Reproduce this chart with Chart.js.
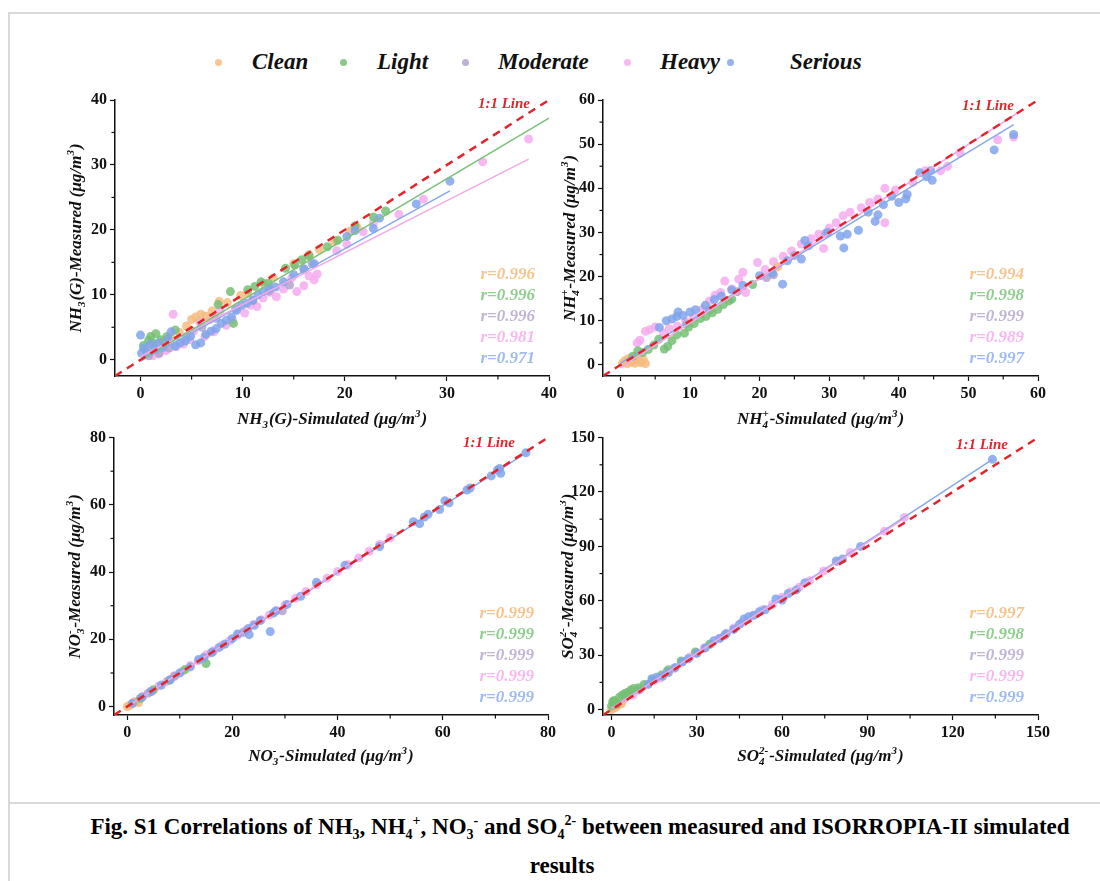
<!DOCTYPE html>
<html>
<head>
<meta charset="utf-8">
<title>Fig. S1</title>
<script src="https://cdn.jsdelivr.net/npm/chart.js@4.4.1/dist/chart.umd.min.js"></script>
<style>
  body { margin: 0; background: #fff; font-family: "Liberation Serif", "Times New Roman", serif; }
  #page { position: relative; width: 1100px; height: 881px; overflow: hidden; }
  .rule { position: absolute; background: #d9d9d9; }
  .panel { position: absolute; }
  .leg { position: absolute; top: 48px; height: 28px; line-height: 28px; font-weight: bold; font-style: italic; font-size: 23px; color: #111; }
  .dot { position: absolute; width: 7px; height: 7px; border-radius: 50%; top: 59px; }
  .cap { position: absolute; font-weight: bold; font-size: 23px; color: #000; white-space: nowrap; transform: translateX(-50%); }
  .cap sub, .cap sup { font-size: 14px; }
</style>
</head>
<body>
<div id="page">
  <div class="rule" style="left:8px;top:12px;width:1092px;height:2px"></div>
  <div class="rule" style="left:8px;top:12px;width:2px;height:869px"></div>
  <div class="rule" style="left:8px;top:802px;width:1092px;height:2px"></div>

  <div id="legend"></div>

  <canvas id="nh3" class="panel" style="left:60px;top:85px" width="500" height="350"></canvas>
  <canvas id="nh4" class="panel" style="left:560px;top:85px" width="500" height="350"></canvas>
  <canvas id="no3" class="panel" style="left:60px;top:425px" width="500" height="346"></canvas>
  <canvas id="so4" class="panel" style="left:560px;top:425px" width="500" height="346"></canvas>

  <div class="cap" style="left:580px;top:813px">Fig. S1 Correlations of NH<sub>3</sub>, NH<sub>4</sub><sup>+</sup>, NO<sub>3</sub><sup>-</sup> and SO<sub>4</sub><sup>2-</sup> between measured and ISORROPIA-II simulated</div>
  <div class="cap" style="left:562px;top:853px">results</div>
</div>
<script>
// pollution levels
const categories = ["Clean", "Light", "Moderate", "Heavy", "Serious"];
const pointColors = ["rgba(247,188,128,0.85)", "rgba(118,192,118,0.85)", "rgba(178,163,205,0.85)", "rgba(246,172,238,0.85)", "rgba(128,164,236,0.85)"];
const lineColors = ["#f5b87a", "#79c279", "#b3a3cf", "#f3a9ea", "#87a9ea"];
const rColors = ["#f6c48c", "#8fcf8f", "#c2b5d8", "#f7b8f0", "#a0bbf0"];

// NH3(G): [simulated, measured]
const nh3Clean = [[0.8,1.4],[1.5,2.2],[2.2,2.8],[3,3.4],[3.8,4.2],[4.5,5.2],[5,6.2],[5.4,6.6],[5.9,7],[6.4,6.7],[7,7.5],[7.7,9],[8.5,8.8],[9.8,9.9],[10.5,10.2],[12,11.8],[13,12.6],[15,14.8],[16.5,16.2],[17.5,17],[19,18.2],[20.5,19.8],[21.2,20.4]];
const nh3Light = [[0.3,2.2],[0.8,3],[1,3.6],[1.5,4],[1.2,2.6],[2,3.1],[2.6,3.6],[3.4,4.6],[7.6,8.5],[8.8,10.5],[9.1,5.6],[10.5,10.8],[11.2,11.3],[11.8,12],[12.5,11.8],[14.2,14.1],[15.1,14.6],[15.8,15.4],[16.5,16],[18.3,17.4],[19.3,18.4],[21,20.6],[22.8,22],[24,22.9]];
const nh3Moderate = [[0.8,0.6],[1.8,1],[2.8,1.8],[4.5,3.6],[6,5],[7.4,6.4],[9.3,7.8],[11,9.1],[12.6,10.6],[14.6,11.5],[16,13.9],[16.8,14.8]];
const nh3Heavy = [[1.2,0.6],[1.8,0.9],[2.5,1.4],[3.2,7],[3.5,2],[4.2,2.4],[4.8,3.1],[5.2,4.4],[5.8,5.8],[6.3,3.6],[6.8,6.2],[7.2,4.3],[7.8,7.6],[8.4,5.3],[9,6.2],[9.5,8],[10.2,7.2],[10.8,8.4],[11.4,8.2],[12,9.5],[12.7,10.4],[13.3,9.7],[14,10.9],[14.8,12.6],[15.3,10.5],[16,11.4],[16.5,12.9],[17,12.3],[17.3,13.2],[19.2,16.8],[20.2,17.8],[21.8,19.7],[22.8,21],[25.3,22.4],[27.7,24.7],[33.5,30.5],[38,34]];
const nh3Serious = [[0,3.8],[0.1,1],[0.3,1.8],[0.6,1.2],[1,2.4],[1.4,1.6],[1.8,2.6],[2.2,1.9],[2.7,3.2],[3,4.3],[3.4,2.1],[3.9,2.6],[4.4,2.9],[4.9,3.6],[5.4,2.3],[5.9,2.6],[6.4,3.9],[6.9,4.4],[7.4,4.8],[7.9,5.6],[8.4,6.1],[8.9,6.6],[9.4,7.6],[9.9,8.4],[10.4,8.7],[11,9.2],[11.5,10],[12,10.5],[12.6,11],[13.2,11.2],[14,12],[15,13.1],[16,14],[17,14.8],[20.2,19],[21,19.9],[22.8,20.2],[23.4,21.8],[27,24],[30.3,27.5]];
// fitted lines: [category index, x0, y0, x1, y1]
const nh3Fits = [[1,0,-0.1,40,37.2],[3,0,0.5,38,30.9],[4,0,-0.2,30.3,26]];
const nh3R = ["0.996", "0.996", "0.996", "0.981", "0.971"];

// NH4+
const nh4Clean = [[0.3,0.4],[0.7,1],[1,0.3],[1.2,1.5],[1.5,0.6],[1.8,1.1],[2.1,0.4],[2.4,1.6],[2.7,0.8],[3,0.5],[3.3,1.2],[3.6,0.3],[2.2,2],[22.6,22.2]];
const nh4Light = [[1.8,2],[2.5,3.2],[3.2,2.8],[4,3.5],[4.8,4.5],[5.5,5.8],[6.3,3.6],[6.8,4.2],[7.4,5.5],[8.1,6.8],[9.2,7.2],[9.8,8.6],[10.6,9.4],[11.5,10.5],[12.3,11],[13.2,11.8],[14,12.6],[14.8,13.7],[15.6,14.5],[16,14.9],[19,18.2]];
const nh4Moderate = [[9.5,9.3],[12.8,12.5],[16.8,16.6],[21,19.8],[22,20.4],[25,24.8],[29.5,29.8]];
const nh4Heavy = [[2.4,5],[2.8,5.6],[3.6,7.6],[4.2,8],[5,8.6],[6.2,7.2],[7,8.2],[8.2,8.8],[9.4,9.8],[10.5,10.8],[11.8,12.6],[12.8,14.5],[13.6,15.8],[14.4,16.4],[15,19],[16,17.2],[17,19.4],[17.6,21],[18,16.4],[19.7,23.2],[20.8,21.6],[22,23.4],[23.4,24.6],[24.6,25.8],[26,27.4],[27.4,28.6],[28.5,29.6],[29.2,26.4],[30,31],[31,32.2],[32,33.8],[33,34.6],[34.6,35.6],[35.8,36.8],[37,37.6],[38,32.2],[38,40],[39.5,39.6],[42,41.4],[43.8,44],[46,44],[47,45],[48.8,48],[54.2,51],[56.5,51.6]];
const nh4Serious = [[5.6,8.5],[6.6,10],[7.4,10.4],[8.1,11],[8.3,12],[9,11.2],[10,12],[10.8,12.5],[12.2,13.5],[13.5,14.8],[14.5,15.6],[16,17],[17.6,18],[20,20.2],[21.8,20.8],[23.3,18.3],[24,23.6],[26,24],[26.5,28.2],[27,27],[29.8,30],[31.6,29.2],[32.1,26.5],[32.6,29.6],[34.2,30.5],[35.6,34.6],[36.6,32.5],[37,34],[37.8,36.3],[39,38.2],[40,36.8],[41,37.6],[41.2,38.6],[43,43.5],[44,42.6],[44.8,41.8],[44.6,44],[53.7,48.7],[56.5,52.2]];
const nh4Fits = [[3,0,-0.6,57,57],[4,0,0.4,56.5,54.4]];
const nh4R = ["0.994", "0.998", "0.999", "0.989", "0.997"];

// NO3-
const no3Clean = [[0,0],[0.5,0.4],[1,0.8],[1.6,1.3],[2.2,1.2]];
const no3Light = [[2.5,2.4],[5,5],[8,7.8],[11,11],[15,12.8]];
const no3Moderate = [[4,4],[9,9],[16,16],[22,22],[29.5,28.5]];
const no3Heavy = [[1.5,1.5],[3,3],[4.5,4.6],[6,6.1],[7.5,7.5],[9,9.2],[10.5,10.5],[12,12.2],[13.5,13.6],[15,15.4],[16.5,16.6],[18,18.2],[19.5,19.6],[21,21.2],[22.5,22.6],[24,24.4],[25.5,25.8],[27,27.2],[28.5,28.6],[30,30.2],[32,32.2],[34,34.2],[36,36.2],[38,38.2],[40,40.2],[42,42.2],[44,44.2],[46,46.2],[48,48.2],[50,50.2]];
const no3Serious = [[1,1],[2.8,2.8],[4.6,4.5],[6.5,6.4],[8.2,8],[10,10],[12,11.8],[13.6,14],[14.6,14.6],[16.2,16.2],[17.5,17.6],[18.6,18.6],[20,20.2],[21,21.6],[23.2,21.4],[23,23.2],[24.2,24.2],[25.3,25.6],[27.2,22.3],[27.8,27.8],[28.2,28.4],[30.4,30.4],[33,32.8],[36,37],[41.4,42],[48,47.6],[54.4,55],[55.6,54.4],[56.5,56.4],[57.2,57.2],[59.4,58.6],[60.4,61.2],[61.2,60.6],[64.6,64.4],[65.2,65],[69.2,68.6],[70.4,70.4],[71,69.4],[70.8,70.8],[75.8,75.5]];
const no3Fits = [[3,0,0,50,50.2],[4,0,0.1,75.8,75.4]];
const no3R = ["0.999", "0.999", "0.999", "0.999", "0.999"];

// SO4 2-
const so4Clean = [[0,0],[0.8,0.8],[1.6,1.4],[2.5,2.8],[3.5,3.2]];
const so4Light = [[0,2],[0.4,4.4],[1,5],[1.8,3],[2.8,6.8],[3.8,8],[4.8,9],[5.8,9.6],[6.8,10.8],[7.8,11.6],[9.5,12],[11.5,13.8],[14.5,16.6],[17.5,19],[20,22],[24.5,26.8],[29.5,31.8],[34.5,36]];
const so4Moderate = [[9.5,10.8],[19.5,21],[29.8,31],[39.8,41]];
const so4Heavy = [[4.5,5.6],[7.5,8],[10,11],[12.6,13.8],[15,16],[17,17.4],[19.6,20.8],[22,22.6],[24.6,26],[27.6,29],[30,31.2],[32.6,34],[35,36.2],[37.6,39],[40,41.2],[43,45],[46,48],[49.6,51.8],[53,55],[56.6,58],[60,62],[63,65],[66,67.4],[69.6,71],[74.6,76.4],[79.6,81.6],[84,86.6],[96,98.4],[103,106]];
const so4Serious = [[13,14],[14.2,17],[15.8,17.8],[18,18.4],[20,20.4],[22.4,23.2],[25,26.4],[27,28],[30,31.2],[33,34],[36,38],[38.2,39.4],[40.4,42],[43,44.2],[45,47],[46.6,50],[48.2,51.2],[50,52],[52,54],[54,55],[57.8,61],[60,60.4],[62.2,64],[65,66],[68,70],[79,82],[81.2,83],[87.6,90],[134,138]];
const so4Fits = [[3,0,0.6,104,106.4],[4,0,0.4,134,138]];
const so4R = ["0.997", "0.998", "0.999", "0.999", "0.999"];

// legend
const legendDotX = [215, 340, 462, 624, 727];
const legendTextX = [252, 377, 498, 660, 790];
const legendEl = document.getElementById("legend");
categories.forEach((c, i) => {
  legendEl.insertAdjacentHTML("beforeend",
    `<div class="dot" style="left:${legendDotX[i]}px;background:${pointColors[i]}"></div>` +
    `<div class="leg" style="left:${legendTextX[i]}px">${c}</div>`);
});

const serif = '"Liberation Serif", "Times New Roman", serif';
const drawOrder = [4, 3, 5, 6, 2]; // Serious on top, Heavy underneath

// split "NH_{4}^{+}" style titles into normal / sub / sup pieces
function parseRich(s) {
  const out = [];
  const re = /([_^])\{([^}]*)\}/g;
  let last = 0, m;
  while ((m = re.exec(s))) {
    if (m.index > last) out.push({ t: s.slice(last, m.index), k: "" });
    out.push({ t: m[2], k: m[1] });
    last = re.lastIndex;
  }
  if (last < s.length) out.push({ t: s.slice(last), k: "" });
  return out;
}

function layoutRich(ctx, parts) {
  let x = 0, subStart = null, subW = 0;
  const placed = [];
  parts.forEach((p) => {
    ctx.font = p.k ? `italic bold 11px ${serif}` : `italic bold 17px ${serif}`;
    const w = ctx.measureText(p.t).width;
    if (p.k === "^" && subStart !== null) {
      // stack superscript over the preceding subscript
      placed.push({ ...p, x: subStart });
      x = subStart + Math.max(subW, w) + 1;
      subStart = null;
      return;
    }
    placed.push({ ...p, x: x });
    if (p.k === "_") { subStart = x; subW = w; } else subStart = null;
    x += w + (p.k ? 1 : 0);
  });
  return { placed, width: x };
}

function drawRich(ctx, text, cx, cy, rotate) {
  const { placed, width } = layoutRich(ctx, parseRich(text));
  ctx.save();
  ctx.translate(cx, cy);
  if (rotate) ctx.rotate(-Math.PI / 2);
  ctx.fillStyle = "#111";
  ctx.textAlign = "left";
  ctx.textBaseline = "middle";
  placed.forEach((p) => {
    ctx.font = p.k ? `italic bold 11px ${serif}` : `italic bold 17px ${serif}`;
    const dy = p.k === "_" ? 5 : p.k === "^" ? -6 : 0;
    ctx.fillText(p.t, p.x - width / 2, dy);
  });
  ctx.restore();
}

const panelNotes = {
  id: "panelNotes",
  afterDatasetsDraw(chart, args, opts) {
    const { ctx, chartArea: a } = chart;
    ctx.save();
    ctx.textAlign = "right";
    ctx.textBaseline = "middle";
    ctx.font = `italic bold 15px ${serif}`;
    ctx.fillStyle = "#e3242b";
    ctx.fillText("1:1 Line", a.right - opts.lineDx, a.top + opts.lineDy);
    ctx.font = `italic bold 17px ${serif}`;
    opts.r.forEach((r, i) => {
      ctx.fillStyle = rColors[i];
      ctx.fillText("r=" + r, a.right - opts.rDx, a.bottom - opts.rDy + i * 21);
    });
    ctx.restore();
  },
  afterDraw(chart, args, opts) {
    const { ctx, chartArea: a, scales } = chart;
    // minor ticks, shorter than the labelled ones
    ctx.save();
    ctx.strokeStyle = "#111";
    ctx.lineWidth = 1.2;
    scales.x.ticks.forEach((t) => {
      if (t.value % opts.major === 0) return;
      const px = scales.x.getPixelForValue(t.value);
      ctx.beginPath(); ctx.moveTo(px, a.bottom); ctx.lineTo(px, a.bottom + 3.5); ctx.stroke();
    });
    scales.y.ticks.forEach((t) => {
      if (t.value % opts.major === 0) return;
      const py = scales.y.getPixelForValue(t.value);
      ctx.beginPath(); ctx.moveTo(a.left, py); ctx.lineTo(a.left - 3.5, py); ctx.stroke();
    });
    ctx.restore();
    drawRich(ctx, opts.xTitle, (a.left + a.right) / 2, chart.height - opts.xTitleUp, false);
    drawRich(ctx, opts.yTitle, opts.yTitleX, (a.top + a.bottom) / 2, true);
  }
};

function axis(min, max, major, fit, horizontal) {
  return {
    type: "linear",
    min: min,
    max: max,
    afterFit: (s) => { if (horizontal) s.height = fit; else s.width = fit; },
    ticks: {
      stepSize: major / 2,
      includeBounds: false,
      autoSkip: false,
      maxRotation: 0,
      maxTicksLimit: 100,
      color: "#111",
      padding: 3,
      font: { family: serif, weight: "bold", size: 16 },
      callback: (v) => (v % major === 0 ? v : "")
    },
    grid: {
      drawOnChartArea: false,
      drawTicks: true,
      tickLength: 5,
      tickWidth: 1.2,
      tickColor: (c) => (c.tick && c.tick.value % major === 0 ? "#111" : "rgba(0,0,0,0)")
    },
    border: { color: "#111", width: 1.5 },
    title: { display: false }
  };
}

function makePanel(id, series, fits, rVals, cfg) {
  const datasets = [];
  datasets.push({
    type: "line",
    data: [{ x: cfg.min, y: cfg.min }, { x: cfg.max, y: cfg.max }],
    borderColor: "#e3242b",
    borderWidth: 2.5,
    borderDash: [8, 6],
    pointRadius: 0,
    order: 0
  });
  fits.forEach((f) => {
    datasets.push({
      type: "line",
      data: [{ x: f[1], y: f[2] }, { x: f[3], y: f[4] }],
      borderColor: lineColors[f[0]],
      borderWidth: 1.5,
      pointRadius: 0,
      order: 1
    });
  });
  series.forEach((pts, i) => {
    datasets.push({
      label: categories[i],
      data: pts.map((p) => ({ x: p[0], y: p[1] })),
      backgroundColor: pointColors[i],
      borderWidth: 0,
      pointRadius: 4.5,
      order: drawOrder[i]
    });
  });

  return new Chart(document.getElementById(id).getContext("2d"), {
    type: "scatter",
    data: { datasets: datasets },
    options: {
      responsive: false,
      animation: false,
      layout: { padding: { left: cfg.padLeft, right: cfg.padRight, top: cfg.padTop, bottom: 0 } },
      scales: {
        x: axis(cfg.min, cfg.max, cfg.major, cfg.xFit, true),
        y: axis(cfg.min, cfg.max, cfg.major, cfg.yFit, false)
      },
      plugins: {
        legend: { display: false },
        tooltip: { enabled: false },
        panelNotes: {
          r: rVals, major: cfg.major, lineDx: cfg.lineDx, lineDy: cfg.lineDy, rDx: 14, rDy: 101,
          xTitle: cfg.xTitle, yTitle: cfg.yTitle, xTitleUp: cfg.xTitleUp, yTitleX: cfg.yTitleX
        }
      }
    },
    plugins: [panelNotes]
  });
}

makePanel("nh3", [nh3Clean, nh3Light, nh3Moderate, nh3Heavy, nh3Serious], nh3Fits, nh3R, {
  min: -2.5, max: 40, major: 10,
  xTitle: "NH_{3}(G)-Simulated (μg/m^{3})", yTitle: "NH_{3}(G)-Measured (μg/m^{3})",
  padLeft: 8, padRight: 11, padTop: 15, yFit: 47, xFit: 59, lineDx: 19, lineDy: 4,
  xTitleUp: 15, yTitleX: 17
});
makePanel("nh4", [nh4Clean, nh4Light, nh4Moderate, nh4Heavy, nh4Serious], nh4Fits, nh4R, {
  min: -2.5, max: 60, major: 10,
  xTitle: "NH_{4}^{+}-Simulated (μg/m^{3})", yTitle: "NH_{4}^{+}-Measured (μg/m^{3})",
  padLeft: 0, padRight: 22, padTop: 15, yFit: 43, xFit: 59, lineDx: 24, lineDy: 6,
  xTitleUp: 15, yTitleX: 11
});
makePanel("no3", [no3Clean, no3Light, no3Moderate, no3Heavy, no3Serious], no3Fits, no3R, {
  min: -2.5, max: 80, major: 20,
  xTitle: "NO_{3}^{-}-Simulated (μg/m^{3})", yTitle: "NO_{3}^{-}-Measured (μg/m^{3})",
  padLeft: 8, padRight: 12, padTop: 12, yFit: 46, xFit: 56, lineDx: 33, lineDy: 6,
  xTitleUp: 14, yTitleX: 16
});
makePanel("so4", [so4Clean, so4Light, so4Moderate, so4Heavy, so4Serious], so4Fits, so4R, {
  min: -3, max: 150, major: 30,
  xTitle: "SO_{4}^{2-}-Simulated (μg/m^{3})", yTitle: "SO_{4}^{2-}-Measured (μg/m^{3})",
  padLeft: 0, padRight: 22, padTop: 12, yFit: 43, xFit: 56, lineDx: 30, lineDy: 8,
  xTitleUp: 14, yTitleX: 9
});
</script>
</body>
</html>
